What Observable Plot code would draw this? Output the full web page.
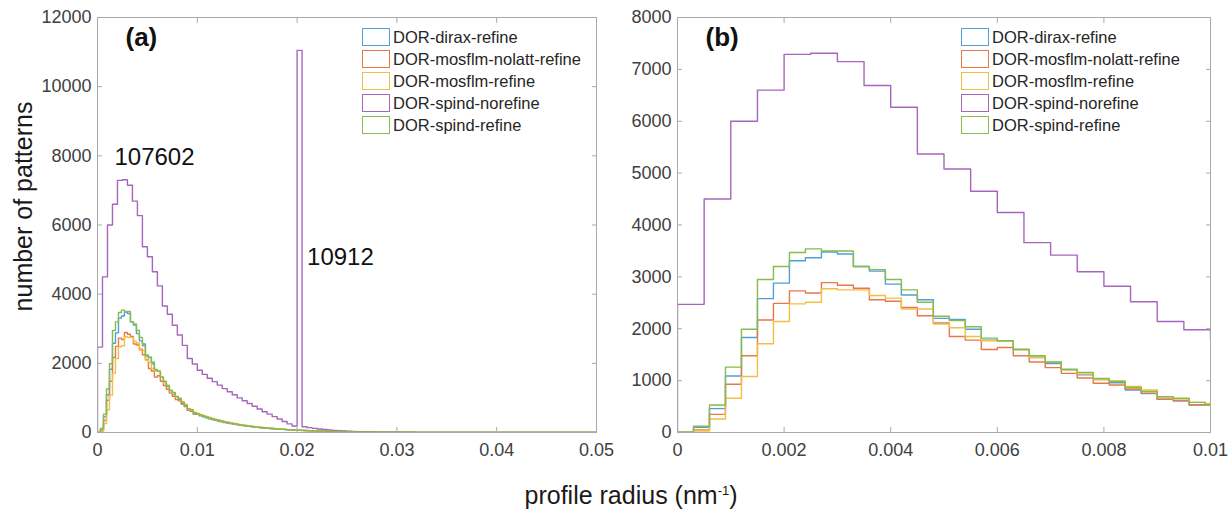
<!DOCTYPE html>
<html><head><meta charset="utf-8">
<script src="https://cdn.jsdelivr.net/npm/d3@7"></script>
<script src="https://cdn.jsdelivr.net/npm/@observablehq/plot@0.6"></script>
<style>
body{margin:0;background:#fff;font-family:"Liberation Sans",Arial,Helvetica,sans-serif;}
#wrap{position:relative;width:1229px;height:509px;overflow:hidden;background:#fff;}
.abs{position:absolute;}
.legend{position:absolute;font-size:16.5px;color:#262626;}
.legend .row{display:flex;align-items:center;height:22px;white-space:nowrap;}
.legend .sw{box-sizing:border-box;width:28px;height:18px;border:1.6px solid;margin-right:3px;}
.ylab{position:absolute;font-size:25px;color:#1a1a1a;transform:rotate(-90deg);transform-origin:center;white-space:nowrap;}
.xlab{position:absolute;font-size:25px;color:#1a1a1a;white-space:nowrap;}
.xlab sup{font-size:13px;vertical-align:9px;}
</style></head>
<body><div id="wrap"></div>
<script>
// ---------- data ----------
const seriesNames = ["DOR-dirax-refine","DOR-mosflm-nolatt-refine","DOR-mosflm-refine","DOR-spind-norefine","DOR-spind-refine"];
const seriesColors = ["#4f9fdb","#e8784a","#f2bf45","#a766be","#86bc4c"];
const binWidthRefine = 0.0003;   // bin width of the refined histograms (nm^-1)
const binWidthNorefine = 0.0005; // bin width of spind-norefine

const countsDirax = [
 5,100,460,1090,1830,2580,2880,3310,3370,3480,3440,3200,3110,2860,2650,2560,2200,2180,1990,1780,
 1770,1600,1450,1330,1210,1110,1020,960,820,750,640,610,530,530,
 480,452,423,398,374,351,330,310,291,274,257,242,228,214,201,189,178,167,157,148,
 139,131,123,116,109,102,96,90,85,80,75,71,66,62,59,55,52,49,46,43,
 41,38,36,34,32,30,28,26,25,23,22,21,19,18,17,16,15,14,13,12,
 12,11,10,10,9,8,8,7,7,6,6,6,5,5,5,4,4,4,3,3,
 3,3,3,2,2,2,2,2,2,1,1,1,1,1,1,1,1,1,1,0,
 0,0,0,0,0,0,0,0,0,0,0,0,0,0,0,0,0,0,0,0,
 0,0,0,0,0,0,0,0,0,0,0,0,0];
const countsMosflmNolatt = [
 0,50,350,930,1480,2170,2490,2730,2690,2890,2840,2780,2560,2530,2410,2250,2110,1850,1780,1600,
 1640,1480,1360,1250,1140,1050,950,915,840,760,640,610,535,535,
 500,470,444,418,393,370,348,327,307,289,272,256,240,226,212,200,188,176,166,156,
 146,138,129,122,114,107,101,95,89,84,79,74,70,65,62,58,54,51,48,45,
 42,40,37,35,33,31,29,27,26,24,23,21,20,19,18,17,16,15,14,13,
 12,11,11,10,9,9,8,8,7,7,6,6,5,5,5,4,4,4,4,3,
 3,3,3,2,2,2,2,2,2,1,1,1,1,1,1,1,1,1,0,0,
 0,0,0,0,0,0,0,0,0,0,0,0,0,0,0,0,0,0,0,0,
 0,0,0,0,0,0,0,0,0,0,0,0,0];
const countsMosflm = [
 0,30,260,660,1080,1710,2140,2480,2510,2770,2750,2750,2640,2590,2380,2380,2090,2020,1850,1770,
 1770,1600,1440,1360,1210,1130,1020,1000,890,820,690,645,580,560,
 520,490,462,435,409,385,362,341,320,301,283,266,251,236,222,209,196,185,174,163,
 154,145,136,128,120,113,107,100,94,89,83,78,74,69,65,61,58,54,51,48,
 45,42,40,37,35,33,31,29,27,26,24,23,21,20,19,18,17,16,15,14,
 13,12,11,11,10,9,9,8,8,7,7,6,6,5,5,5,4,4,4,3,
 3,3,3,3,2,2,2,2,2,2,1,1,1,1,1,1,1,1,1,1,
 1,0,0,0,0,0,0,0,0,0,0,0,0,0,0,0,0,0,0,0,
 0,0,0,0,0,0,0,0,0,0,0,0,0];
const countsSpindNorefine = [
 2470,4500,6000,6600,7290,7310,7150,6690,6270,5370,5080,4650,4240,3660,3420,3100,2820,2520,2140,1980,
 1800,1680,1570,1470,1370,1270,1180,1090,1000,920,840,760,680,600,530,460,390,320,250,190,
 11050,165,140,120,100,85,72,60,50,42,35,30,25,21,18,15,12,10,8,7,
 6,5,4,4,3,3,2,2,2,1,1,1,1,0,0,0,0,0,0,0,
 0,0,0,0,0,0,0,0,0,0,0,0,0,0,0,0,0,0,0,0];
const countsSpindRefine = [
 5,120,530,1260,1990,2950,3200,3470,3540,3500,3500,3200,3140,2950,2750,2510,2240,2160,2040,1820,
 1770,1600,1480,1360,1220,1160,1040,980,870,790,690,660,580,535,
 505,475,447,420,395,371,349,328,308,290,272,256,241,226,213,200,188,177,166,156,
 147,138,130,122,115,108,101,95,90,84,79,74,70,66,62,58,55,51,48,45,
 43,40,38,35,33,31,29,28,26,24,23,22,20,19,18,17,16,15,14,13,
 12,11,11,10,9,9,8,8,7,7,6,6,6,5,5,5,4,4,4,4,
 3,3,3,3,3,2,2,2,2,2,2,2,1,1,1,1,1,1,1,1,
 1,1,1,1,0,0,0,0,0,0,0,0,0,0,0,0,0,0,0,0,
 0,0,0,0,0,0,0,0,0,0,0,0,0];

const xTicksA = [0,0.01,0.02,0.03,0.04,0.05];
const xTickLabelsA = ["0","0.01","0.02","0.03","0.04","0.05"];
const yTicksA = [0,2000,4000,6000,8000,10000,12000];
const yTickLabelsA = ["0","2000","4000","6000","8000","10000","12000"];
const xTicksB = [0,0.002,0.004,0.006,0.008,0.01];
const xTickLabelsB = ["0","0.002","0.004","0.006","0.008","0.01"];
const yTicksB = [0,1000,2000,3000,4000,5000,6000,7000,8000];
const yTickLabelsB = ["0","1000","2000","3000","4000","5000","6000","7000","8000"];
const annotationsA = [
  {label: "107602", x: 0.0017, y: 7730},
  {label: "10912", x: 0.021, y: 4830}
];
const xTitle = "profile radius (nm";
const yTitle = "number of patterns";

// ---------- build stairs ----------
const seriesCounts = [countsDirax, countsMosflmNolatt, countsMosflm, countsSpindNorefine, countsSpindRefine];
const seriesBinWidth = [binWidthRefine, binWidthRefine, binWidthRefine, binWidthNorefine, binWidthRefine];
function stairs(name, counts, w) {
  const pts = [{name, x: 0, y: 0}];
  counts.forEach((c, i) => pts.push({name, x: i * w, y: c}));
  pts.push({name, x: counts.length * w, y: 0});
  return pts;
}
const points = seriesNames.flatMap((n, k) => stairs(n, seriesCounts[k], seriesBinWidth[k]));

const FONT = '"Liberation Sans", Arial, Helvetica, sans-serif';
const AX = "#a9a9a9";
const TXT = "#404040";

function panel({width, marginLeft, marginRight, xDomain, yDomain, xTicks, xLabels, yTicks, yLabels, tag, annos, bg}) {
  const marks = [
    Plot.line(points, {x: "x", y: "y", z: "name", stroke: "name", curve: "step-after", strokeWidth: 1.4, clip: true}),
    Plot.frame({stroke: AX}),
    Plot.axisX({anchor: "bottom", ticks: xTicks, tickFormat: d => xLabels[xTicks.indexOf(d)], tickSize: -5, tickPadding: 16, stroke: AX, fill: TXT, label: null}),
    Plot.axisX({anchor: "top", ticks: xTicks, tickFormat: () => "", tickSize: -5, stroke: AX, label: null}),
    Plot.axisY({anchor: "left", ticks: yTicks, tickFormat: d => yLabels[yTicks.indexOf(d)], tickSize: -5, tickPadding: 11, stroke: AX, fill: TXT, label: null}),
    Plot.axisY({anchor: "right", ticks: yTicks, tickFormat: () => "", tickSize: -5, stroke: AX, label: null}),
    Plot.text([tag], {frameAnchor: "top-left", dx: 28, dy: 10, text: d => d, fontWeight: "bold", fontSize: 26, textAnchor: "start", lineAnchor: "top", fill: "#111"})
  ];
  if (annos) marks.push(Plot.text(annos, {x: "x", y: "y", text: "label", fontSize: 24, textAnchor: "start", lineAnchor: "bottom", fill: "#111"}));
  return Plot.plot({
    width, height: 470, marginLeft, marginRight, marginTop: 17, marginBottom: 38,
    style: {fontFamily: FONT, fontSize: "18px", background: bg, overflow: "visible"},
    x: {domain: xDomain},
    y: {domain: yDomain},
    color: {domain: seriesNames, range: seriesColors},
    marks
  });
}

const wrap = document.getElementById("wrap");
const pb = panel({width: 619, marginLeft: 67, marginRight: 19, xDomain: [0, 0.01], yDomain: [0, 8000],
  xTicks: xTicksB, xLabels: xTickLabelsB, yTicks: yTicksB, yLabels: yTickLabelsB, tag: "(b)", bg: "transparent"});
pb.classList.add("abs"); pb.style.left = "610px"; pb.style.top = "0px";
wrap.appendChild(pb);
const pa = panel({width: 610, marginLeft: 97, marginRight: 14, xDomain: [0, 0.05], yDomain: [0, 12000],
  xTicks: xTicksA, xLabels: xTickLabelsA, yTicks: yTicksA, yLabels: yTickLabelsA, tag: "(a)", annos: annotationsA, bg: "transparent"});
pa.classList.add("abs"); pa.style.left = "0px"; pa.style.top = "0px";
wrap.appendChild(pa);

// legends
function legend(left, top) {
  const d = document.createElement("div");
  d.className = "legend"; d.style.left = left + "px"; d.style.top = top + "px";
  seriesNames.forEach((n, i) => {
    const r = document.createElement("div"); r.className = "row";
    const s = document.createElement("span"); s.className = "sw"; s.style.borderColor = seriesColors[i];
    const t = document.createElement("span"); t.textContent = n;
    r.appendChild(s); r.appendChild(t); d.appendChild(r);
  });
  wrap.appendChild(d);
}
legend(362, 26);
legend(961, 26);

// axis titles
const yl = document.createElement("div"); yl.className = "ylab"; yl.textContent = yTitle;
wrap.appendChild(yl);
const ylw = yl.offsetWidth, ylh = yl.offsetHeight;
yl.style.left = (24 - ylw / 2) + "px"; yl.style.top = (206 - ylh / 2) + "px";
const xl = document.createElement("div"); xl.className = "xlab";
xl.innerHTML = xTitle + "<sup>-1</sup>)";
wrap.appendChild(xl);
xl.style.left = (631 - xl.offsetWidth / 2) + "px"; xl.style.top = "481px";
</script>
</body></html>
